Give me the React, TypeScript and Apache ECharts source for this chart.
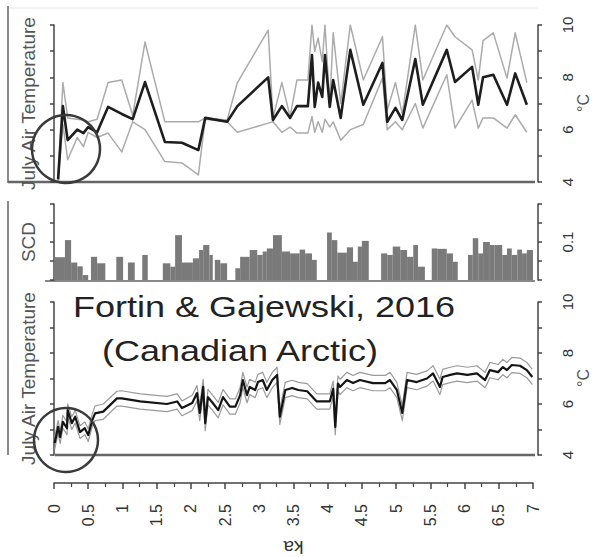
import React, { useEffect, useRef } from 'react';
import * as echarts from 'echarts';

const FONT = '"Liberation Sans", Arial, sans-serif';

// ---------- Top panel: July air temperature (°C) vs age (ka) ----------
const topKa = [0.06, 0.13, 0.20, 0.34, 0.43, 0.50, 0.63, 0.79, 0.99, 1.15, 1.33, 1.62, 1.87, 2.11, 2.21, 2.53, 2.68, 3.13, 3.20, 3.33, 3.45, 3.55, 3.71, 3.77, 3.81, 3.86, 3.92, 3.96, 4.03, 4.08, 4.19, 4.33, 4.52, 4.80, 4.87, 4.99, 5.09, 5.28, 5.39, 5.74, 5.86, 6.11, 6.20, 6.27, 6.42, 6.62, 6.74, 6.91];
const topMean = [4.1, 6.9, 5.6, 6.0, 5.87, 6.1, 5.9, 6.87, 6.6, 6.4, 7.82, 5.53, 5.5, 5.22, 6.45, 6.3, 6.9, 8.0, 6.37, 6.9, 6.45, 6.9, 6.9, 8.85, 6.87, 7.8, 7.25, 8.85, 6.87, 7.9, 6.45, 9.05, 6.95, 8.55, 6.3, 6.83, 6.37, 8.7, 6.95, 9.05, 7.82, 8.4, 6.95, 8.0, 8.1, 6.95, 8.15, 6.95];
const topUpper = [4.2, 7.8, 6.45, 6.4, 6.37, 6.3, 6.4, 7.8, 7.9, 6.55, 9.35, 6.3, 6.3, 6.3, 6.45, 6.37, 7.8, 9.8, 6.45, 7.8, 6.5, 7.9, 7.9, 10.0, 9.0, 9.5, 8.6, 10.0, 7.0, 9.7, 7.0, 10.0, 7.9, 9.55, 6.75, 7.8, 6.6, 10.0, 7.9, 10.0, 9.55, 9.05, 7.9, 9.4, 9.7, 7.97, 9.7, 7.8];
const topLower = [4.0, 6.2, 4.85, 5.7, 5.35, 5.9, 5.7, 5.87, 5.15, 6.3, 6.0, 4.78, 4.73, 4.27, 6.4, 6.3, 5.9, 6.25, 6.3, 5.9, 6.1, 5.87, 5.87, 6.5, 5.9, 6.3, 5.9, 6.4, 6.1, 6.3, 5.6, 6.0, 6.2, 7.97, 6.0, 6.3, 6.0, 7.0, 6.06, 8.1, 6.06, 7.13, 6.06, 6.45, 6.45, 6.06, 6.57, 5.9];

// ---------- Middle panel: SCD bars ----------
const scdStart = [0.00, 0.16, 0.25, 0.34, 0.42, 0.54, 0.63, 0.91, 1.08, 1.29, 1.59, 1.70, 1.77, 1.87, 2.03, 2.12, 2.18, 2.27, 2.35, 2.43, 2.65, 2.72, 2.86, 2.97, 3.05, 3.11, 3.20, 3.33, 3.45, 3.59, 3.67, 3.77, 3.99, 4.06, 4.14, 4.28, 4.37, 4.44, 4.50, 4.78, 4.87, 4.95, 5.06, 5.16, 5.25, 5.32, 5.52, 5.60, 5.74, 5.83, 6.05, 6.12, 6.20, 6.27, 6.37, 6.44, 6.55, 6.62, 6.69, 6.77, 6.84, 6.91];
const scdEnd = [0.16, 0.25, 0.34, 0.42, 0.50, 0.63, 0.75, 1.01, 1.18, 1.37, 1.70, 1.77, 1.87, 2.03, 2.12, 2.18, 2.27, 2.32, 2.43, 2.53, 2.72, 2.86, 2.97, 3.05, 3.11, 3.20, 3.33, 3.45, 3.59, 3.67, 3.77, 3.84, 4.06, 4.14, 4.28, 4.37, 4.44, 4.50, 4.60, 4.87, 4.95, 5.06, 5.16, 5.25, 5.32, 5.42, 5.60, 5.74, 5.83, 5.90, 6.12, 6.20, 6.27, 6.37, 6.44, 6.55, 6.62, 6.69, 6.77, 6.84, 6.91, 7.00];
const scdValue = [0.06, 0.105, 0.046, 0.036, 0.013, 0.061, 0.044, 0.061, 0.046, 0.066, 0.044, 0.035, 0.118, 0.046, 0.057, 0.079, 0.092, 0.066, 0.053, 0.044, 0.031, 0.061, 0.079, 0.066, 0.075, 0.083, 0.118, 0.075, 0.07, 0.08, 0.07, 0.053, 0.125, 0.105, 0.072, 0.086, 0.048, 0.088, 0.103, 0.07, 0.066, 0.088, 0.079, 0.061, 0.092, 0.035, 0.083, 0.082, 0.07, 0.048, 0.066, 0.11, 0.07, 0.10, 0.092, 0.092, 0.066, 0.083, 0.066, 0.08, 0.07, 0.079];

// ---------- Bottom panel: July air temperature (°C) with error band ----------
const botKa = [
  0.01, 0.06, 0.09, 0.13, 0.19, 0.20, 0.26, 0.31, 0.38, 0.45,
  0.50, 0.56, 0.60, 0.72, 0.92, 0.99, 1.26, 1.65, 1.80, 1.87,
  2.02, 2.09, 2.13, 2.18, 2.21, 2.25, 2.32, 2.40, 2.47, 2.57,
  2.65, 2.72, 2.76, 2.82, 2.86, 2.94, 2.98, 3.05, 3.11, 3.19,
  3.26, 3.30, 3.38, 3.48, 3.57, 3.70, 3.84, 4.03, 4.08, 4.11,
  4.15, 4.18, 4.28, 4.37, 4.47, 4.66, 4.84, 4.91, 5.01, 5.09,
  5.16, 5.30, 5.45, 5.54, 5.64, 5.68, 5.79, 5.89, 6.04, 6.18,
  6.30, 6.37, 6.49, 6.56, 6.62, 6.69, 6.81, 6.91, 6.99];
const botMean = [
  4.47, 5.10, 4.70, 5.30, 5.05, 5.76, 5.25, 5.50, 4.90, 5.05,
  4.78, 5.37, 5.63, 5.70, 6.22, 6.22, 6.10, 6.00, 6.10, 5.84,
  6.04, 6.43, 5.65, 6.67, 5.25, 6.27, 6.04, 5.76, 6.27, 5.90,
  5.90, 6.35, 6.94, 6.35, 6.67, 6.55, 6.86, 6.94, 6.55, 6.94,
  7.14, 5.50, 6.55, 6.63, 6.55, 6.50, 6.10, 6.10, 6.60, 5.10,
  6.80, 6.67, 6.94, 6.82, 6.94, 6.82, 6.82, 6.94, 6.55, 5.65,
  6.94, 6.86, 7.00, 7.20, 6.67, 7.06, 7.14, 7.20, 7.14, 7.20,
  6.94, 7.33, 7.25, 7.45, 7.33, 7.53, 7.50, 7.33, 7.06];
const botUpper = [
  4.70, 5.35, 4.95, 5.55, 5.30, 6.00, 5.50, 5.75, 5.15, 5.30,
  5.02, 5.62, 5.92, 6.00, 6.50, 6.52, 6.40, 6.30, 6.40, 6.12,
  6.34, 6.72, 5.95, 6.97, 5.55, 6.57, 6.34, 6.06, 6.57, 6.20,
  6.20, 6.65, 7.24, 6.66, 6.97, 6.85, 7.16, 7.24, 6.85, 7.24,
  7.44, 5.80, 6.85, 6.93, 6.85, 6.80, 6.40, 6.40, 6.90, 5.40,
  7.10, 6.97, 7.24, 7.12, 7.24, 7.12, 7.12, 7.24, 6.85, 5.95,
  7.24, 7.16, 7.30, 7.50, 6.97, 7.36, 7.44, 7.50, 7.44, 7.50,
  7.24, 7.63, 7.55, 7.75, 7.63, 7.83, 7.80, 7.63, 7.36];
const botLower = [
  4.22, 4.85, 4.45, 5.05, 4.80, 5.50, 5.00, 5.25, 4.65, 4.80,
  4.53, 5.12, 5.35, 5.40, 5.92, 5.92, 5.80, 5.70, 5.80, 5.54,
  5.74, 6.13, 5.35, 6.37, 4.95, 5.97, 5.74, 5.46, 5.97, 5.60,
  5.60, 6.05, 6.64, 6.05, 6.37, 6.25, 6.56, 6.64, 6.25, 6.64,
  6.84, 5.20, 6.25, 6.33, 6.25, 6.20, 5.80, 5.80, 6.30, 4.80,
  6.50, 6.37, 6.64, 6.52, 6.64, 6.52, 6.52, 6.64, 6.25, 5.35,
  6.64, 6.56, 6.70, 6.90, 6.37, 6.76, 6.84, 6.90, 6.84, 6.90,
  6.64, 7.03, 6.95, 7.15, 7.03, 7.23, 7.20, 7.03, 6.76];

const tempTickLabels = ['4', '6', '8', '10'];
const scdTickLabels = ['0.1'];
const unitLabel = '°C';

const AX = '#444';
const pairs = (xs: number[], ys: number[]) => xs.map((x, i) => [x, ys[i]]);

function leftAxis(gridIndex: number, min: number, max: number, interval: number, name: string) {
  return {
    type: 'value', gridIndex, position: 'left', min, max, interval, offset: 3,
    axisLine: { show: true, lineStyle: { color: AX, width: 1.5 } },
    axisTick: { show: true, length: 4, lineStyle: { color: AX, width: 1.5 } },
    axisLabel: { show: false },
    splitLine: { show: false },
    name, nameLocation: 'middle', nameGap: 13,
    nameTextStyle: { fontSize: 19, color: '#555', fontFamily: FONT },
  };
}

function rightAxis(gridIndex: number, min: number, max: number, interval: number, labels: string[]) {
  return {
    type: 'value', gridIndex, position: 'right', min, max, interval, offset: 5,
    axisLine: { show: true, lineStyle: { color: AX, width: 1.5 } },
    axisTick: { show: true, length: 4, lineStyle: { color: AX, width: 1.5 } },
    axisLabel: {
      show: true, rotate: 90, fontSize: 15, color: '#333', margin: 22, fontFamily: FONT,
      formatter: (v: number) => {
        const s = String(Math.round(v * 1000) / 1000);
        return labels.indexOf(s) >= 0 ? s : '';
      },
    },
    splitLine: { show: false },
  };
}

function lineSeries(xi: number, yi: number, xs: number[], ys: number[], color: string, width: number, z: number) {
  return {
    type: 'line', xAxisIndex: xi, yAxisIndex: yi, data: pairs(xs, ys),
    showSymbol: false, symbol: 'none', z,
    lineStyle: { color, width, join: 'round' }, silent: true,
  };
}

function unitText(y: number) {
  return {
    type: 'text', x: 583, y, rotation: Math.PI / 2, z: 10,
    style: { text: unitLabel, font: '16px "Liberation Sans", Arial, sans-serif', fill: '#555', align: 'center', verticalAlign: 'middle' },
  };
}

function buildOption() {
  const grids = [
    { left: 54, right: 62, top: 25, height: 157, containLabel: false, outerBoundsMode: 'none' },
    { left: 54, right: 62, top: 204, height: 76, containLabel: false, outerBoundsMode: 'none' },
    { left: 54, right: 62, top: 302, height: 153, containLabel: false, outerBoundsMode: 'none' },
  ];
  const hiddenX = (g: number) => ({ type: 'value', gridIndex: g, min: 0, max: 7, show: false });
  return {
    animation: false,
    backgroundColor: '#ffffff',
    textStyle: { fontFamily: FONT },
    grid: grids,
    xAxis: [
      hiddenX(0),
      hiddenX(1),
      {
        type: 'value', gridIndex: 2, min: 0, max: 7, interval: 0.5, position: 'bottom', offset: 28,
        axisLine: { show: true, lineStyle: { color: AX, width: 1.5 } },
        axisTick: { show: true, length: 6, lineStyle: { color: AX, width: 1.5 } },
        minorTick: { show: true, splitNumber: 2, length: 4, lineStyle: { color: AX, width: 1.2 } },
        axisLabel: { rotate: 90, fontSize: 16, color: '#333', margin: 21, fontFamily: FONT },
        splitLine: { show: false },
        name: 'ka', nameLocation: 'middle', nameGap: 55, nameRotate: 180,
        nameTextStyle: { fontSize: 19, color: '#333', fontFamily: FONT },
      },
    ],
    yAxis: [
      leftAxis(0, 4, 10, 1, 'July Air Temperature'),
      rightAxis(0, 4, 10, 1, tempTickLabels),
      leftAxis(1, 0, 0.2, 0.05, 'SCD'),
      rightAxis(1, 0, 0.2, 0.05, scdTickLabels),
      leftAxis(2, 4, 10, 1, 'July Air Temperature'),
      rightAxis(2, 4, 10, 1, tempTickLabels),
    ],
    series: [
      lineSeries(0, 0, topKa, topUpper, '#ababab', 1.5, 2),
      lineSeries(0, 0, topKa, topLower, '#ababab', 1.5, 2),
      lineSeries(0, 0, topKa, topMean, '#1e1e1e', 2.6, 3),
      {
        type: 'custom', xAxisIndex: 1, yAxisIndex: 2, silent: true,
        data: scdStart.map((s, i) => [s, scdEnd[i], scdValue[i]]),
        encode: { x: [0, 1], y: 2 },
        renderItem: (_p: any, api: any) => {
          const p0 = api.coord([api.value(0), api.value(2)]);
          const p1 = api.coord([api.value(1), 0]);
          return {
            type: 'rect',
            shape: { x: p0[0], y: p0[1], width: p1[0] - p0[0], height: p1[1] - p0[1] },
            style: { fill: '#7a7a7a' },
          };
        },
      },
      lineSeries(2, 4, botKa, botUpper, '#9a9a9a', 1.2, 2),
      lineSeries(2, 4, botKa, botLower, '#9a9a9a', 1.2, 2),
      lineSeries(2, 4, botKa, botMean, '#151515', 2.2, 3),
    ],
    graphic: [
      { type: 'line', shape: { x1: 8, y1: 8, x2: 538, y2: 8 }, style: { stroke: '#e6e6e6', lineWidth: 1 } },
      { type: 'line', shape: { x1: 8, y1: 6, x2: 8, y2: 183 }, style: { stroke: '#8a8a8a', lineWidth: 2 } },
      { type: 'line', shape: { x1: 8, y1: 201, x2: 8, y2: 455 }, style: { stroke: '#8a8a8a', lineWidth: 2 } },
      { type: 'line', shape: { x1: 8, y1: 182, x2: 535, y2: 182 }, style: { stroke: '#666', lineWidth: 2.5 } },
      { type: 'line', shape: { x1: 45, y1: 281, x2: 535, y2: 281 }, style: { stroke: '#888', lineWidth: 2 } },
      { type: 'line', shape: { x1: 55, y1: 455, x2: 535, y2: 455 }, style: { stroke: '#666', lineWidth: 2.5 } },
      { type: 'circle', shape: { cx: 66, cy: 149, r: 34 }, style: { stroke: '#3a3a3a', lineWidth: 2.5, fill: 'none' }, z: 10 },
      { type: 'circle', shape: { cx: 66, cy: 440, r: 32 }, style: { stroke: '#3a3a3a', lineWidth: 2.5, fill: 'none' }, z: 10 },
      unitText(103),
      unitText(378),
      {
        type: 'text', x: 73, y: 307, scaleX: 1.2, z: 10,
        style: { text: 'Fortin & Gajewski, 2016', font: '30px "Liberation Sans", Arial, sans-serif', fill: '#222', align: 'left', verticalAlign: 'middle' },
      },
      {
        type: 'text', x: 102, y: 351, scaleX: 1.2, z: 10,
        style: { text: '(Canadian Arctic)', font: '30px "Liberation Sans", Arial, sans-serif', fill: '#222', align: 'left', verticalAlign: 'middle' },
      },
    ],
  };
}

export default function App() {
  const ref = useRef<HTMLDivElement>(null);
  useEffect(() => {
    if (!ref.current) return;
    const chart = echarts.init(ref.current, null, { renderer: 'svg' });
    chart.setOption(buildOption() as any);
    return () => chart.dispose();
  }, []);
  return (
    <div
      ref={ref}
      style={{ position: 'absolute', left: 0, top: 0, width: 595, height: 557, background: '#fff' }}
    />
  );
}
